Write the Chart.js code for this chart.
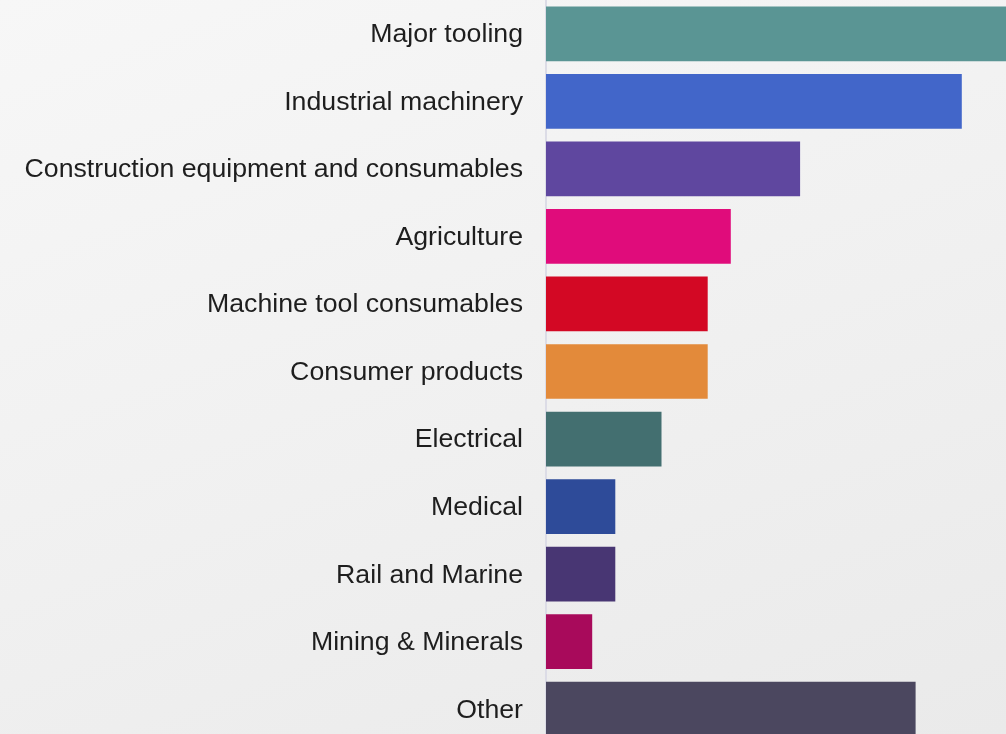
<!DOCTYPE html>
<html>
<head>
<meta charset="utf-8">
<script src="https://cdn.jsdelivr.net/npm/chart.js@4"></script>
<style>
    html, body {
        margin: 0;
        padding: 0;
        width: 1006px;
        height: 734px;
        overflow: hidden;
        background: linear-gradient(160deg, #f7f7f7 0%, #f0f0f0 55%, #eaeaea 100%);
    }
    #chartBox { position: absolute; left: 0; top: 0; }
</style>
</head>
<body>
<div id="chartBox">
    <!-- slightly larger than the window: the source is cropped at right and bottom -->
    <canvas id="sectorChart" width="1008" height="743"></canvas>
</div>
<script>
// sectors served (share, %)
const sectors = [
    "Major tooling",
    "Industrial machinery",
    "Construction equipment and consumables",
    "Agriculture",
    "Machine tool consumables",
    "Consumer products",
    "Electrical",
    "Medical",
    "Rail and Marine",
    "Mining & Minerals",
    "Other"
];
const shares = [20, 18, 11, 8, 7, 7, 5, 3, 3, 2, 16];
const barColors = [
    "#5a9594", "#4266c9", "#5f479f", "#e00c7b", "#d30824", "#e38a3a",
    "#436f70", "#2e4b99", "#483673", "#a80a5b", "#4b475f"
];
const axisMax = 20;

const ctx = document.getElementById("sectorChart").getContext("2d");
new Chart(ctx, {
    type: 'bar',
    data: {
        labels: sectors,
        datasets: [{
            data: shares,
            backgroundColor: barColors,
            borderWidth: 0,
            barPercentage: 1,
            categoryPercentage: 0.81
        }]
    },
    options: {
        indexAxis: 'y',
        responsive: false,
        animation: false,
        layout: { padding: 0 },
        plugins: {
            legend: { display: false },
            tooltip: { enabled: false }
        },
        scales: {
            x: {
                display: false,
                min: 0,
                max: axisMax
            },
            y: {
                z: 1, // axis line sits on top of the bar ends
                grid: { display: false, drawTicks: false },
                border: { display: true, color: '#dcdce6', width: 2 },
                ticks: {
                    color: '#1e1e1e',
                    padding: 23,
                    labelOffset: 1,
                    font: { family: '"Liberation Sans", Arial, sans-serif', size: 26.7 }
                },
                afterFit: scale => {
                    // fixed label column, no extra top/bottom padding
                    scale.width = 546;
                    scale.paddingTop = 0;
                    scale.paddingBottom = 0;
                }
            }
        }
    }
});
</script>
</body>
</html>
